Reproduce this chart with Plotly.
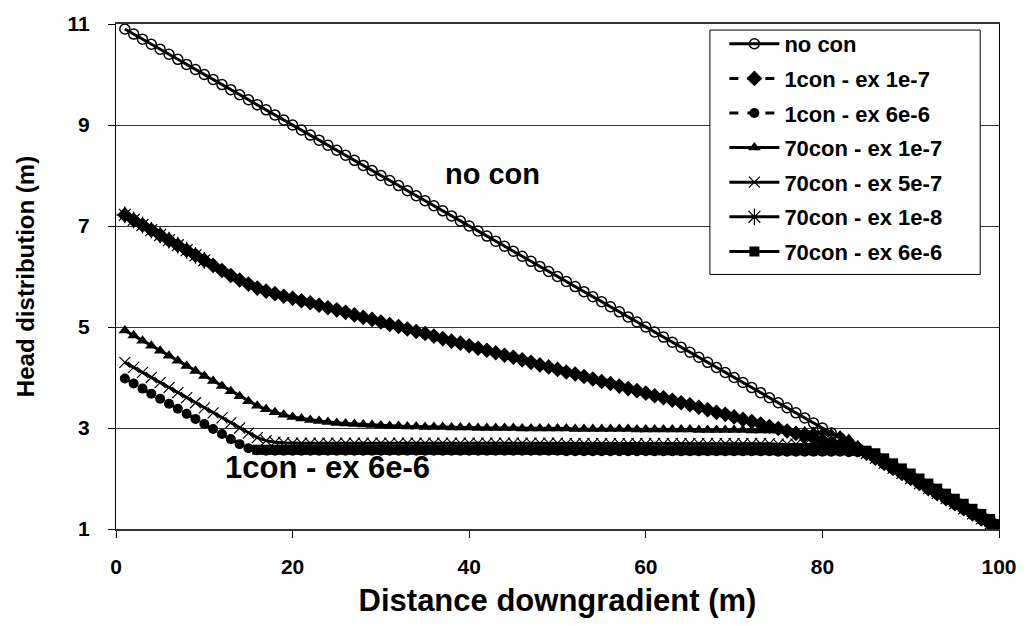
import plotly.graph_objects as go

# Distance downgradient (m), one reading per metre
distance = list(range(1, 101))

# Head distribution (m) for each scenario
no_con = [
    10.9, 10.8, 10.7, 10.6, 10.5, 10.4, 10.3, 10.2, 10.1, 10.0,
    9.9, 9.8, 9.7, 9.6, 9.5, 9.4, 9.3, 9.2, 9.1, 9.0,
    8.9, 8.8, 8.7, 8.6, 8.5, 8.4, 8.3, 8.2, 8.1, 8.0,
    7.9, 7.8, 7.7, 7.6, 7.5, 7.4, 7.3, 7.2, 7.1, 7.0,
    6.9, 6.8, 6.7, 6.6, 6.5, 6.4, 6.3, 6.2, 6.1, 6.0,
    5.9, 5.8, 5.7, 5.6, 5.5, 5.4, 5.3, 5.2, 5.1, 5.0,
    4.9, 4.8, 4.7, 4.6, 4.5, 4.4, 4.3, 4.2, 4.1, 4.0,
    3.9, 3.8, 3.7, 3.6, 3.5, 3.4, 3.3, 3.2, 3.1, 3.0,
    2.9, 2.8, 2.7, 2.6, 2.5, 2.4, 2.3, 2.2, 2.1, 2.0,
    1.9, 1.8, 1.7, 1.6, 1.5, 1.4, 1.3, 1.2, 1.1, 1.0,
]

# Shared reach from 85 m to the outlet, where every scenario coincides
tail = [2.5, 2.4, 2.3, 2.2, 2.1, 2.0, 1.9, 1.8, 1.7, 1.6, 1.5, 1.4, 1.3, 1.2, 1.1, 1.0]

con1_ex1e7 = [
    7.22, 7.12, 7.02, 6.92, 6.82, 6.72, 6.62, 6.52, 6.42, 6.32,
    6.22, 6.12, 6.02, 5.93, 5.85, 5.77, 5.71, 5.66, 5.61, 5.57,
    5.52, 5.48, 5.43, 5.38, 5.34, 5.29, 5.24, 5.19, 5.15, 5.10,
    5.05, 5.01, 4.96, 4.91, 4.87, 4.82, 4.77, 4.72, 4.68, 4.63,
    4.58, 4.54, 4.49, 4.44, 4.40, 4.35, 4.30, 4.25, 4.21, 4.16,
    4.11, 4.07, 4.02, 3.97, 3.92, 3.88, 3.83, 3.78, 3.74, 3.69,
    3.64, 3.60, 3.55, 3.50, 3.46, 3.41, 3.36, 3.31, 3.27, 3.22,
    3.17, 3.13, 3.08, 3.03, 2.99, 2.94, 2.89, 2.85, 2.80, 2.75,
    2.70, 2.66, 2.61, 2.57,
] + tail

con1_ex6e6 = [
    3.98, 3.88, 3.78, 3.68, 3.58, 3.48, 3.38, 3.28, 3.18, 3.08,
    2.98, 2.88, 2.78, 2.68, 2.60, 2.56, 2.55, 2.55, 2.55, 2.55,
    2.55, 2.55, 2.55, 2.55, 2.55, 2.55, 2.55, 2.55, 2.55, 2.55,
    2.55, 2.55, 2.55, 2.55, 2.55, 2.55, 2.55, 2.55, 2.55, 2.55,
    2.55, 2.55, 2.55, 2.55, 2.55, 2.55, 2.55, 2.55, 2.55, 2.55,
    2.54, 2.54, 2.54, 2.54, 2.54, 2.54, 2.54, 2.54, 2.54, 2.54,
    2.54, 2.54, 2.54, 2.54, 2.54, 2.54, 2.54, 2.54, 2.54, 2.54,
    2.54, 2.54, 2.54, 2.54, 2.53, 2.53, 2.53, 2.53, 2.53, 2.53,
    2.53, 2.53, 2.52, 2.52,
] + tail

con70_ex1e7 = [
    4.93, 4.83, 4.73, 4.63, 4.53, 4.43, 4.33, 4.23, 4.13, 4.03,
    3.93, 3.83, 3.73, 3.63, 3.53, 3.44, 3.37, 3.31, 3.26, 3.22,
    3.19, 3.16, 3.14, 3.12, 3.10, 3.09, 3.08, 3.07, 3.06, 3.05,
    3.04, 3.04, 3.03, 3.03, 3.02, 3.02, 3.02, 3.01, 3.01, 3.01,
    3.00, 3.00, 3.00, 3.00, 3.00, 2.99, 2.99, 2.99, 2.99, 2.99,
    2.99, 2.98, 2.98, 2.98, 2.98, 2.98, 2.98, 2.98, 2.97, 2.97,
    2.97, 2.97, 2.97, 2.97, 2.97, 2.96, 2.96, 2.96, 2.96, 2.96,
    2.96, 2.95, 2.95, 2.95, 2.95, 2.94, 2.94, 2.93, 2.92, 2.91,
    2.89, 2.85, 2.78, 2.66,
] + tail

con70_ex5e7 = [
    4.30, 4.20, 4.10, 4.00, 3.90, 3.80, 3.70, 3.60, 3.50, 3.40,
    3.30, 3.20, 3.10, 3.00, 2.90, 2.81, 2.75, 2.72, 2.71, 2.70,
    2.70, 2.70, 2.70, 2.70, 2.70, 2.70, 2.70, 2.70, 2.70, 2.70,
    2.70, 2.70, 2.70, 2.70, 2.70, 2.70, 2.70, 2.70, 2.70, 2.70,
    2.70, 2.70, 2.70, 2.70, 2.70, 2.70, 2.70, 2.70, 2.70, 2.70,
    2.69, 2.69, 2.69, 2.69, 2.69, 2.69, 2.69, 2.69, 2.69, 2.69,
    2.69, 2.69, 2.69, 2.69, 2.69, 2.69, 2.69, 2.69, 2.69, 2.69,
    2.69, 2.69, 2.69, 2.69, 2.68, 2.68, 2.68, 2.68, 2.68, 2.67,
    2.66, 2.64, 2.61, 2.56,
] + tail

# Only the first ten metres of this run are recorded
distance_ex1e8 = [1, 2, 3, 4, 5, 6, 7, 8, 9, 10]
con70_ex1e8 = [7.22, 7.12, 7.02, 6.92, 6.82, 6.72, 6.62, 6.52, 6.42, 6.32]

# Recorded from 16 m onwards
distance_ex6e6 = list(range(16, 101))
con70_ex6e6 = [
    2.57, 2.57, 2.57, 2.57, 2.57,
    2.57, 2.57, 2.57, 2.57, 2.57, 2.57, 2.57, 2.57, 2.57, 2.57,
    2.57, 2.57, 2.57, 2.57, 2.57, 2.57, 2.57, 2.57, 2.57, 2.57,
    2.57, 2.57, 2.57, 2.57, 2.57, 2.57, 2.57, 2.57, 2.57, 2.57,
    2.57, 2.57, 2.57, 2.57, 2.57, 2.57, 2.57, 2.57, 2.57, 2.57,
    2.56, 2.56, 2.56, 2.56, 2.56, 2.56, 2.56, 2.56, 2.56, 2.56,
    2.56, 2.56, 2.56, 2.56, 2.56, 2.56, 2.56, 2.56, 2.56, 2.56,
    2.56, 2.56, 2.56, 2.55, 2.55,
] + tail

FONT = "Arial, Liberation Sans, sans-serif"

series = [
    ("no con", distance, no_con, "circle-open", 10, "solid", 1.5),
    ("1con - ex 1e-7", distance, con1_ex1e7, "diamond", 12, "dash", 0),
    ("1con - ex 6e-6", distance, con1_ex6e6, "circle", 10, "dash", 0),
    ("70con - ex 1e-7", distance, con70_ex1e7, "triangle-up", 11, "solid", 0),
    ("70con - ex 5e-7", distance, con70_ex5e7, "x-thin-open", 11, "solid", 1.2),
    ("70con - ex 1e-8", distance_ex1e8, con70_ex1e8, "asterisk-open", 14, "solid", 1.2),
    ("70con - ex 6e-6", distance_ex6e6, con70_ex6e6, "square", 10, "solid", 0),
]

fig = go.Figure()
for i, (name, xs, ys, symbol, size, dash, mlw) in enumerate(series):
    fig.add_trace(go.Scatter(
        x=xs, y=ys, name=name, mode="lines+markers",
        legendgroup=f"g{i}",
        line=dict(color="black", width=3, dash=dash),
        marker=dict(symbol=symbol, size=size, color="black",
                    line=dict(color="black", width=mlw)),
    ))

fig.add_annotation(x=42.6, y=8.02, text="<b>no con</b>", showarrow=False,
                   font=dict(family=FONT, size=29, color="black"))
fig.add_annotation(x=23.9, y=2.21, text="<b>1con - ex 6e-6</b>", showarrow=False,
                   font=dict(family=FONT, size=31, color="black"))

# Framed white panel behind the legend entries
fig.add_shape(type="rect", xref="paper", yref="paper",
              x0=0.6726, x1=0.9787, y0=0.504, y1=0.988,
              fillcolor="white", line=dict(color="black", width=1), layer="above")

fig.update_layout(
    width=1029, height=626,
    margin=dict(l=116, r=21, t=21, b=97),
    paper_bgcolor="white", plot_bgcolor="white",
    font=dict(family=FONT, color="black"),
    showlegend=True,
    legend=dict(
        x=0.689, y=1.002, xanchor="left", yanchor="top",
        bgcolor="rgba(0,0,0,0)", borderwidth=0,
        font=dict(family=FONT, size=22, color="black", weight="bold"),
        tracegroupgap=3, itemwidth=50,
    ),
    xaxis=dict(
        range=[0, 100], tickvals=[0, 20, 40, 60, 80, 100],
        showgrid=False, zeroline=False,
        showline=True, linecolor="#333333", linewidth=2, mirror=True,
        ticks="outside", ticklen=7, tickcolor="black",
        tickfont=dict(family=FONT, size=21, weight="bold"),
        ticklabelstandoff=11,
        title=dict(text="<b>Distance downgradient (m)</b>",
                   font=dict(family=FONT, size=31), standoff=12),
    ),
    yaxis=dict(
        range=[1, 11], tickvals=[1, 3, 5, 7, 9, 11],
        showgrid=True, gridcolor="#333333", gridwidth=1, zeroline=False,
        showline=True, linecolor="black", linewidth=1, mirror=True,
        ticks="outside", ticklen=7, tickcolor="black",
        tickfont=dict(family=FONT, size=21, weight="bold"),
        ticklabelstandoff=14,
        title=dict(text="<b>Head distribution (m)</b>",
                   font=dict(family=FONT, size=24), standoff=26),
    ),
)

fig.write_html("out.html")
